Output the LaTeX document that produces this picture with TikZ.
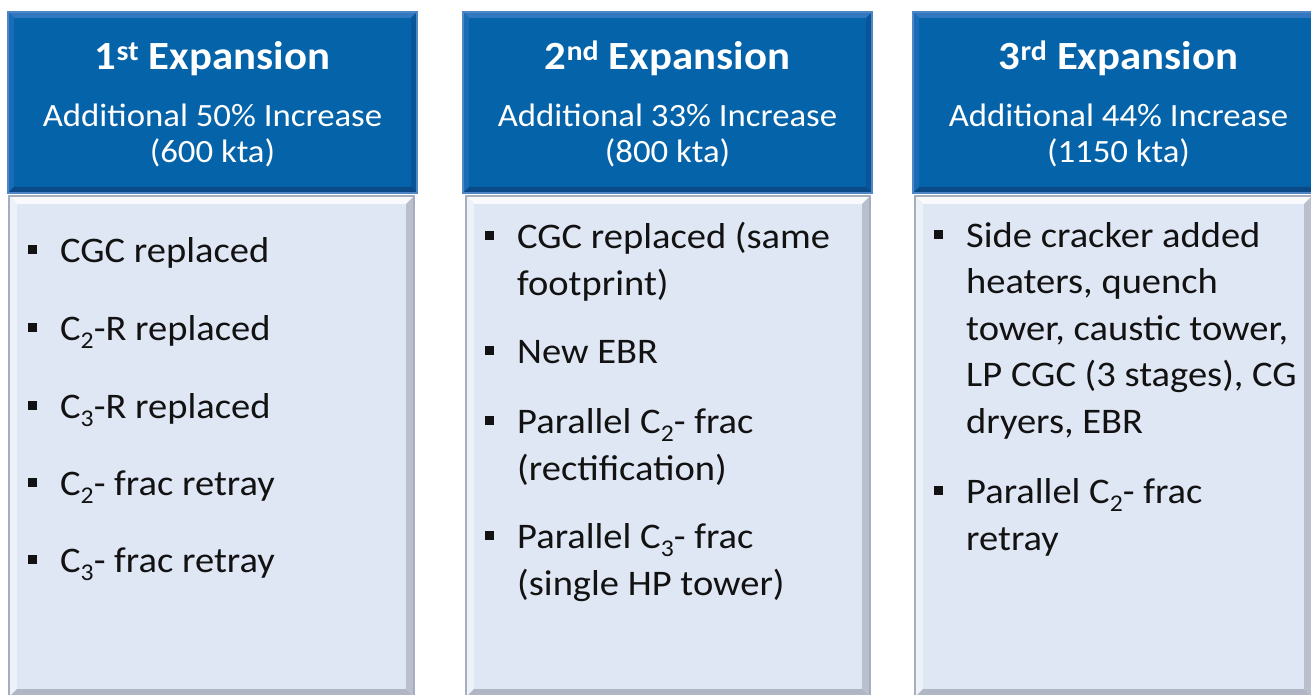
\documentclass[tikz,border=0pt]{standalone}
\usepackage{fontspec}
\setmainfont{Carlito}[FakeStretch=1.07]
\definecolor{hF}{HTML}{0563A9}
\definecolor{hT}{HTML}{3278C0}
\definecolor{hL}{HTML}{1B6CB6}
\definecolor{hR}{HTML}{0A5597}
\definecolor{hB}{HTML}{0A4A86}
\definecolor{hE}{HTML}{4F86C6}
\definecolor{bF}{HTML}{DFE6F4}
\definecolor{bT}{HTML}{F8FAFD}
\definecolor{bL}{HTML}{EDF1F8}
\definecolor{bR}{HTML}{B9BFCC}
\definecolor{bB}{HTML}{B0B6C4}
\definecolor{bE}{HTML}{A6ADBD}
\definecolor{txt}{HTML}{121212}
\newcommand\bevbox[6]{%
  \fill[#6F] (#1,#2) rectangle (#3,#4);
  \fill[#6T] (#1,#2) -- (#3,#2) -- ({#3-#5},{#2+#5}) -- ({#1+#5},{#2+#5}) -- cycle;
  \fill[#6L] (#1,#2) -- ({#1+#5},{#2+#5}) -- ({#1+#5},{#4-#5}) -- (#1,#4) -- cycle;
  \fill[#6R] (#3,#2) -- (#3,#4) -- ({#3-#5},{#4-#5}) -- ({#3-#5},{#2+#5}) -- cycle;
  \fill[#6B] (#1,#4) -- (#3,#4) -- ({#3-#5},{#4-#5}) -- ({#1+#5},{#4-#5}) -- cycle;
  \draw[#6E, line width=1.2pt] (#1,#2) rectangle (#3,#4);
}
\newcommand\sq{\rule[8.5pt]{9pt}{9pt}}
\newcommand\bul{\llap{\sq\hspace{23pt}}}
\newcommand\sbs[1]{\raisebox{-8pt}{\fontsize{24}{24}\selectfont #1}}
\tikzset{
  title/.style={anchor=base, inner sep=0pt, text=white, font=\fontsize{40}{48}\selectfont\bfseries},
  subt/.style={anchor=base, inner sep=0pt, text=white, align=center, font=\fontsize{32.5}{36}\selectfont},
  item/.style={anchor=base west, inner sep=0pt, text=txt, align=left, font=\fontsize{36}{46.5}\selectfont}
}
\begin{document}
\begin{tikzpicture}[x=1pt,y=-1pt]
\useasboundingbox (0,0) rectangle (1311,695);
\fill[white] (0,0) rectangle (1311,695);
% column 1
\bevbox{8}{12}{417}{193}{6}{h}
\bevbox{9}{196}{414}{697}{8}{b}
% column 2
\bevbox{463}{12}{872}{193}{6}{h}
\bevbox{466}{196}{870}{697}{8}{b}
% column 3
\bevbox{913}{12}{1324}{193}{6}{h}
\bevbox{915}{196}{1312}{697}{8}{b}

% headers (base anchor = baseline of the last line)
\node[title] (t1) at (212.5,70) {1\textsuperscript{st} Expansion};
\node[subt] (s1) at (212.5,163) {Additional 50\% Increase\\(600 kta)};
\node[title] (t2) at (667.5,70) {2\textsuperscript{nd} Expansion};
\node[subt] (s2) at (667.5,163) {Additional 33\% Increase\\(800 kta)};
\node[title] (t3) at (1118.5,70) {3\textsuperscript{rd} Expansion};
\node[subt] (s3) at (1118.5,163) {Additional 44\% Increase\\(1150 kta)};

\node[item] (a1) at (60,262) {\bul CGC replaced};
\node[item] (a2) at (60,340) {\bul C\sbs{2}-R replaced};
\node[item] (a3) at (60,418) {\bul C\sbs{3}-R replaced};
\node[item] (a4) at (60,495) {\bul C\sbs{2}- frac retray};
\node[item] (a5) at (60,572) {\bul C\sbs{3}- frac retray};

\node[item] (b1) at (517,295) {\bul CGC replaced (same\\footprint)};
\node[item] (b2) at (517,363) {\bul New EBR};
\node[item] (b3) at (517,480) {\bul Parallel C\sbs{2}- frac\\(rectification)};
\node[item] (b4) at (517,595) {\bul Parallel C\sbs{3}- frac\\(single HP tower)};

\node[item] (c1) at (966,433) {\bul Side cracker added\\heaters, quench\\tower, caustic tower,\\LP CGC (3 stages), CG\\dryers, EBR};
\node[item] (c2) at (966,550) {\bul Parallel C\sbs{2}- frac\\retray};
\end{tikzpicture}
\end{document}
